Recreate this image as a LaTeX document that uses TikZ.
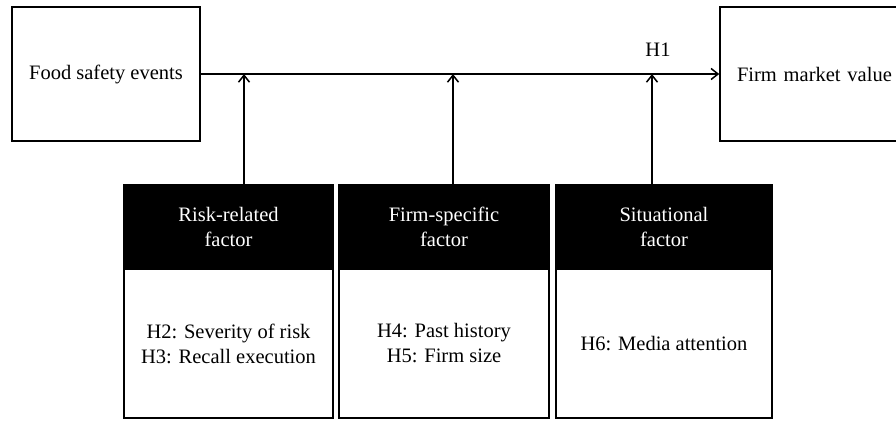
\documentclass[tikz,border=0pt]{standalone}
\usepackage{fontspec}
\setmainfont{Liberation Serif}
\usetikzlibrary{arrows.meta}
\usetikzlibrary{positioning}

\tikzset{
	box/.style={draw=black, line width=1.5pt, fill=white, inner sep=0pt},
	headbox/.style={box, fill=black, text=white, align=center},
	bodybox/.style={box, align=center},
	link/.style={line width=1.5pt, -{Straight Barb[length=7pt, width=11pt, line width=1.5pt]}}
}

\begin{document}
\begin{tikzpicture}[x=1pt, y=-1pt, font=\fontsize{20.5}{25}\selectfont]
	\useasboundingbox (0,0) rectangle (896,421);

	% draw top boxes
	\node[box, minimum width=188pt, minimum height=134pt] (food) at (106,74) {Food safety events};
	\node[box, minimum width=200pt, minimum height=134pt, inner xsep=17pt, text width=166pt, align=left] (value) at (820,74) {Firm market value};

	% draw factor boxes
	\node[headbox, minimum width=209pt, minimum height=84pt] (riskhead) at (228.5,227) {Risk-related\\factor};
	\node[bodybox, minimum width=209pt, minimum height=149pt] (riskbody) at (228.5,343.5) {H2: Severity of risk\\H3: Recall execution};

	\node[headbox, minimum width=210pt, minimum height=84pt] (firmhead) at (444,227) {Firm-specific\\factor};
	\node[bodybox, minimum width=210pt, minimum height=149pt] (firmbody) at (444,343.5) {H4: Past history\\H5: Firm size};

	\node[headbox, minimum width=216pt, minimum height=84pt] (sithead) at (664,227) {Situational\\factor};
	\node[bodybox, minimum width=216pt, minimum height=149pt] (sitbody) at (664,343.5) {H6: Media attention};

	% draw main effect
	\draw[link] (food.east) -- (value.west);
	\node (hone) at (658,50) {H1};

	% draw moderating effects
	\draw[link] ([xshift=15.5pt]riskhead.north) -- ([xshift=15.5pt]riskhead.north |- food.east);
	\draw[link] ([xshift=9pt]firmhead.north) -- ([xshift=9pt]firmhead.north |- food.east);
	\draw[link] ([xshift=-12pt]sithead.north) -- ([xshift=-12pt]sithead.north |- food.east);
\end{tikzpicture}
\end{document}
